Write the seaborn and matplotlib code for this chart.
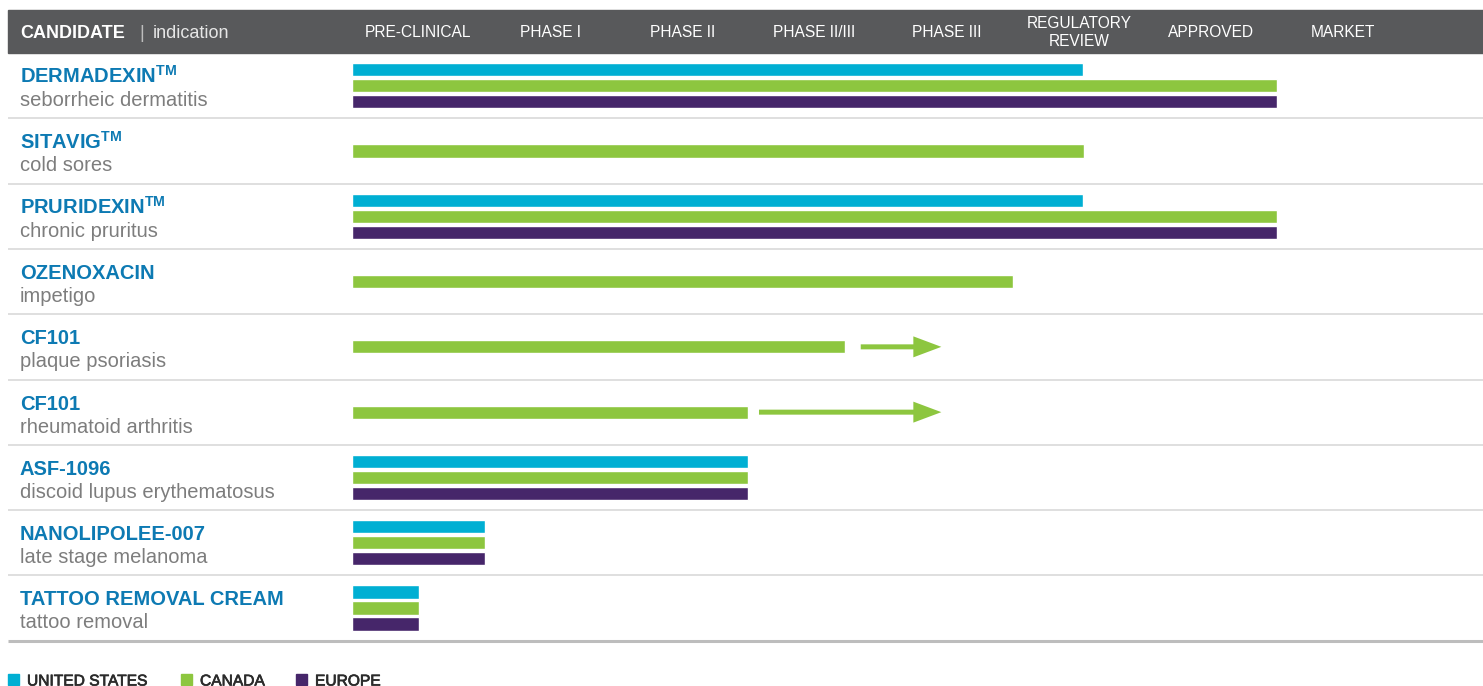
import numpy as np
import pandas as pd
import matplotlib
matplotlib.use("Agg")
import matplotlib.pyplot as plt
import matplotlib.patheffects as pe
import seaborn as sns
from matplotlib.patches import Rectangle
from matplotlib.transforms import blended_transform_factory

# ---------------- data ----------------
phases = ["PRE-CLINICAL", "PHASE I", "PHASE II", "PHASE II/III", "PHASE III",
          "REGULATORY\nREVIEW", "APPROVED", "MARKET"]
candidates = ["DERMADEXIN$^{\\mathbf{TM}}$", "SITAVIG$^{\\mathbf{TM}}$", "PRURIDEXIN$^{\\mathbf{TM}}$",
              "OZENOXACIN", "CF101", "CF101", "ASF-1096", "NANOLIPOLEE-007",
              "TATTOO REMOVAL CREAM"]
indications = ["seborrheic dermatitis", "cold sores", "chronic pruritus", "impetigo",
               "plaque psoriasis", "rheumatoid arthritis", "discoid lupus erythematosus",
               "late stage melanoma", "tattoo removal"]
regions = ["UNITED STATES", "CANADA", "EUROPE"]
region_colors = ["#00afd3", "#8dc63f", "#46266a"]
values_us = [5.53, np.nan, 5.53, np.nan, np.nan, np.nan, 3.0, 1.01, 0.51]
values_ca = [7.0, 5.54, 7.0, 5.0, 3.73, 3.0, 3.0, 1.01, 0.51]
values_eu = [7.0, np.nan, 7.0, np.nan, np.nan, np.nan, 3.0, 1.01, 0.51]
arrow_rows = [4, 5]
arrow_start = [3.85, 3.08]
arrow_end = [4.46, 4.46]

# ---------------- frame ----------------
rows = []
for i, ind in enumerate(indications):
    for reg, vals in zip(regions, [values_us, values_ca, values_eu]):
        if not np.isnan(vals[i]):
            rows.append({"row": ind, "region": reg, "value": vals[i]})
df = pd.DataFrame(rows)

sns.set_theme(style="white")
plt.rcParams["font.family"] = ["Liberation Sans", "DejaVu Sans"]
plt.rcParams["mathtext.fontset"] = "custom"
plt.rcParams["mathtext.rm"] = "Liberation Sans"
plt.rcParams["mathtext.bf"] = "Liberation Sans:bold"

W, H = 1483, 686
fig = plt.figure(figsize=(W / 100, H / 100), dpi=100)
ax = fig.add_axes([0, 0, 1, 1])

sns.barplot(data=df, x="value", y="row", hue="region", order=indications,
            hue_order=regions, palette=region_colors, orient="h", dodge=True,
            width=0.735, gap=0.18, errorbar=None, legend=False, saturation=1,
            ax=ax)

# pixel mapping
x0_px, unit_px = 352, 132.14
top_px, row_px = 53, 65.3
ax.set_xlim(-x0_px / unit_px, (W - x0_px) / unit_px)
ax.set_ylim(-0.5 + (H - top_px) / row_px, -0.5 - top_px / row_px)
ax.axis("off")

# arrows
for r, s, e in zip(arrow_rows, arrow_start, arrow_end):
    ax.arrow(s, r, e - s, 0, width=5 / row_px, head_width=21 / row_px,
             head_length=28 / unit_px, length_includes_head=True,
             color=region_colors[1], lw=0)

fig_tr = fig.transFigure
def fx(px):
    return px / W
def fy(py):
    return 1 - py / H

# header bar
fig.patches.append(Rectangle((fx(8), fy(53)), 1 - fx(8), (53 - 10) / H,
                             transform=fig_tr, color="#58595b", zorder=0))
fig.text(fx(20), fy(33), "CANDIDATE", color="white", fontsize=13, fontweight="bold",
         va="center", ha="left")
fig.text(fx(139), fy(33), "|", color="#bdbdbd", fontsize=13, va="center", ha="left")
fig.text(fx(153), fy(33), "indication", color="#e6e6e6", fontsize=13, va="center", ha="left")

col_tr = blended_transform_factory(ax.transData, fig_tr)
for i, p in enumerate(phases):
    fig.text(i + 0.5, fy(32.5), p, transform=col_tr, color="white", fontsize=11.2,
             ha="center", va="center", linespacing=1.25)

# row labels and separators
lab_tr = blended_transform_factory(fig_tr, ax.transData)
for i, (c, ind) in enumerate(zip(candidates, indications)):
    ax.text(fx(20), i - 0.5 + 30 / row_px, c, transform=lab_tr, color="#0d7ab3",
            fontsize=14.5, fontweight="bold", va="baseline", ha="left")
    ax.text(fx(20), i - 0.5 + 53 / row_px, ind, transform=lab_tr, color="#7d7d7d",
            fontsize=14.5, va="baseline", ha="left")
for i in range(len(indications)):
    last = i == len(indications) - 1
    ax.plot([fx(8), 1], [i + 0.5, i + 0.5], transform=lab_tr,
            color="#bdbdbd" if last else "#d6d6d6", lw=2.2 if last else 1.1,
            solid_capstyle="butt")

# legend
leg_x = [8, 181, 296]
for x, reg, col in zip(leg_x, regions, region_colors):
    fig.patches.append(Rectangle((fx(x), fy(685)), 11 / W, 11 / H, transform=fig_tr,
                                 color=col))
    fig.text(fx(x + 19), fy(685.5), reg, color="#2b2b2b", fontsize=11.2,
             va="baseline", ha="left",
             path_effects=[pe.withStroke(linewidth=0.5, foreground="#2b2b2b")])

fig.savefig("out.png", dpi=100)
